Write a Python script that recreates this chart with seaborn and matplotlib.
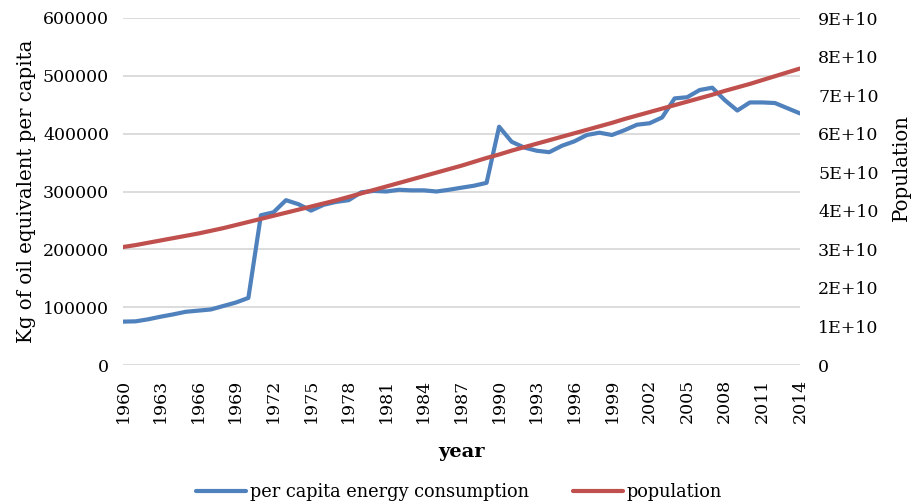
# Per capita energy consumption vs population, 1960-2014
import pandas as pd
import numpy as np
import seaborn as sns
import matplotlib.pyplot as plt
from matplotlib.lines import Line2D

# Years on the x axis
years = list(range(1960, 2015))

# Kg of oil equivalent per capita
energy = [75000, 75500, 79000, 83500, 87500, 92000, 94000, 96000, 102000, 108000,
          116000, 259000, 264000, 285000, 278000, 267000, 277000, 282000, 285000, 298600,
          301000, 300000, 303000, 302000, 302000, 300000, 303000, 306600, 310000, 315000,
          412000, 386000, 376000, 370500, 368000, 379000, 386700, 397700, 401700, 397700,
          406000, 415500, 418000, 428000, 461000, 463000, 475500, 479500, 458000, 440000,
          454000, 454000, 453000, 444000, 435000]

# Population (in units of 1E+10)
population = [3.06, 3.11, 3.17, 3.23, 3.29, 3.35, 3.41, 3.48, 3.55, 3.63,
              3.71, 3.79, 3.87, 3.95, 4.03, 4.11, 4.19, 4.27, 4.36, 4.45,
              4.54, 4.63, 4.72, 4.81, 4.90, 4.99, 5.08, 5.17, 5.27, 5.37,
              5.46, 5.56, 5.65, 5.74, 5.83, 5.92, 6.01, 6.10, 6.19, 6.28,
              6.38, 6.47, 6.56, 6.65, 6.74, 6.83, 6.92, 7.01, 7.11, 7.20,
              7.29, 7.39, 7.49, 7.59, 7.69]

# Tick labels
left_ticks = [0, 100000, 200000, 300000, 400000, 500000, 600000]
right_ticks = [0, 1e10, 2e10, 3e10, 4e10, 5e10, 6e10, 7e10, 8e10, 9e10]
right_labels = ['0', '1E+10', '2E+10', '3E+10', '4E+10', '5E+10', '6E+10', '7E+10', '8E+10', '9E+10']
year_ticks = list(range(1960, 2015, 3))

df = pd.DataFrame({'year': years, 'energy': energy,
                   'population': [p * 1e10 for p in population]})

sns.set_style('white')
plt.rcParams['font.family'] = ['DejaVu Serif']
plt.rcParams['text.color'] = 'black'
plt.rcParams['xtick.color'] = 'black'
plt.rcParams['ytick.color'] = 'black'
plt.rcParams['axes.labelcolor'] = 'black'

blue = '#4f81bd'
red = '#c0504d'

fig = plt.figure(figsize=(9.17, 5.04), dpi=100)
ax = fig.add_axes([123 / 917, 1 - 365 / 504, (800 - 123) / 917, (365 - 18) / 504])
ax2 = ax.twinx()

sns.lineplot(data=df, x='year', y='energy', ax=ax, color=blue, linewidth=3, legend=False)
sns.lineplot(data=df, x='year', y='population', ax=ax2, color=red, linewidth=3, legend=False)

# Left axis
ax.set_xlim(1960, 2014)
ax.set_ylim(0, 600000)
ax.set_yticks(left_ticks)
ax.set_yticklabels([str(t) for t in left_ticks], fontsize=12.5)
ax.yaxis.grid(True, color='#d9d9d9', linewidth=1.3)
ax.set_axisbelow(True)
ax.set_xticks(year_ticks)
ax.set_xticklabels([str(y) for y in year_ticks], rotation=90, fontsize=12.5)
ax.tick_params(axis='both', length=0)
ax.tick_params(axis='y', pad=10)
ax.tick_params(axis='x', pad=10)
ax.set_xlabel('year', fontsize=14, fontweight='bold', labelpad=14)
ax.set_ylabel('Kg of oil equivalent per capita', fontsize=14.2, labelpad=5)

# Right axis
ax2.set_ylim(0, 9e10)
ax2.set_yticks(right_ticks)
ax2.set_yticklabels(right_labels, fontsize=12.5)
ax2.tick_params(axis='y', length=0, pad=13)
ax2.set_ylabel('Population', fontsize=14.2, rotation=90, va='center', ha='center')
ax2.yaxis.set_label_coords((901 - 123) / 677, 1 - (168 - 18) / 347)

for a in (ax, ax2):
    for s in a.spines.values():
        s.set_visible(False)

# Legend at the bottom
handles = [Line2D([0], [0], color=blue, linewidth=3),
           Line2D([0], [0], color=red, linewidth=3)]
fig.legend(handles, ['per capita energy consumption', 'population'],
           loc='center', bbox_to_anchor=(459 / 917, 1 - 492 / 504), ncol=2,
           frameon=False, fontsize=12.8, handlelength=2.8, handletextpad=0.2,
           columnspacing=2.5)

fig.savefig('out.png', dpi=100)
